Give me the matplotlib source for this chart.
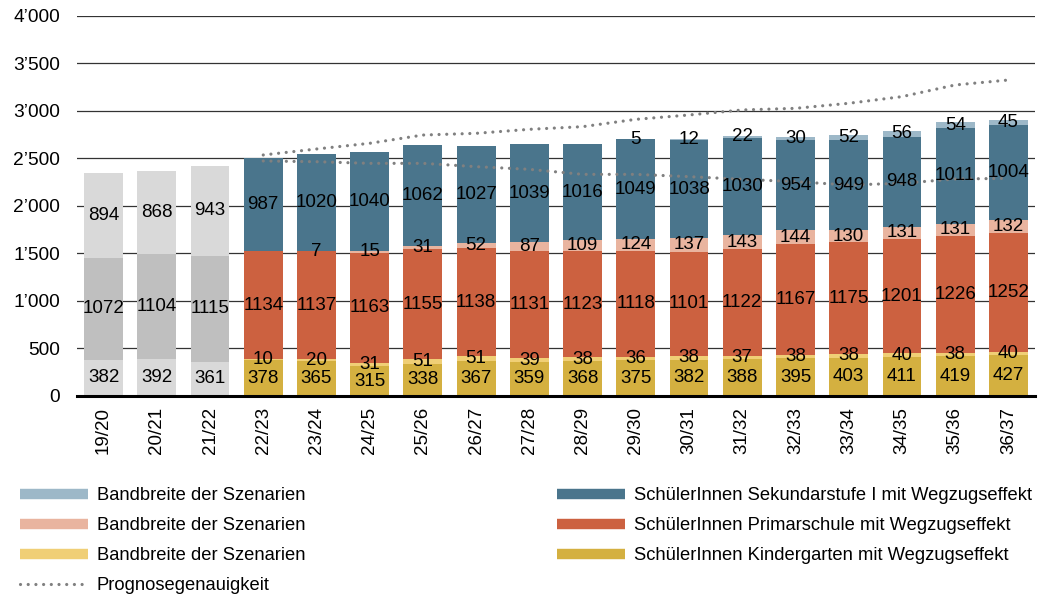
import matplotlib
matplotlib.use("Agg")
import matplotlib.pyplot as plt
from matplotlib.lines import Line2D
from matplotlib.ticker import FuncFormatter
import numpy as np

plt.rcParams['font.family'] = ['Liberation Sans', 'DejaVu Sans']

years = ["19/20", "20/21", "21/22", "22/23", "23/24", "24/25", "25/26", "26/27",
         "27/28", "28/29", "29/30", "30/31", "31/32", "32/33", "33/34", "34/35",
         "35/36", "36/37"]

# historic (grey)
hist_kg = [382, 392, 361]
hist_prim = [1072, 1104, 1115]
hist_sek = [894, 868, 943]

# forecast
kg = [378, 365, 315, 338, 367, 359, 368, 375, 382, 388, 395, 403, 411, 419, 427]
kg_band = [10, 20, 31, 51, 51, 39, 38, 36, 38, 37, 38, 38, 40, 38, 40]
prim = [1134, 1137, 1163, 1155, 1138, 1131, 1123, 1118, 1101, 1122, 1167, 1175, 1201, 1226, 1252]
prim_band = [0, 7, 15, 31, 52, 87, 109, 124, 137, 143, 144, 130, 131, 131, 132]
sek = [987, 1020, 1040, 1062, 1027, 1039, 1016, 1049, 1038, 1030, 954, 949, 948, 1011, 1004]
sek_band = [0, 0, 0, 0, 0, 0, 0, 5, 12, 22, 30, 52, 56, 54, 45]

# prognosis uncertainty (upper / lower)
prog_upper = [2537, 2600, 2660, 2747, 2765, 2807, 2835, 2912, 2958, 3011, 3028, 3081, 3151, 3274, 3326]
prog_lower = [2474, 2466, 2449, 2449, 2414, 2386, 2333, 2333, 2309, 2281, 2256, 2221, 2239, 2284, 2291]

c_grey_l = '#d9d9d9'
c_grey_d = '#bfbfbf'
c_kg = '#d4b040'
c_kg_b = '#f0cf76'
c_prim = '#cc6140'
c_prim_b = '#e9b49f'
c_sek = '#4a758c'
c_sek_b = '#9db8c8'
c_line = '#808080'

fig = plt.figure(figsize=(10.5, 5.99), dpi=100)
ax = fig.add_axes([0.0733, 0.3389, 0.9124, 0.6344])

x_all = np.arange(len(years))
xh = x_all[:3]
xf = x_all[3:]
w = 0.73
fs = 13.5


def stack(ax, xs, series, colors):
    bottom = np.zeros(len(xs))
    for vals, col in zip(series, colors):
        vals = np.array(vals, dtype=float)
        ax.bar(xs, vals, w, bottom=bottom, color=col, edgecolor='none', zorder=2)
        for xi, b, v in zip(xs, bottom, vals):
            if v > 0:
                ax.text(xi, b + v / 2, f"{int(v)}", ha='center', va='center',
                        fontsize=fs, color='black', zorder=5)
        bottom = bottom + vals


stack(ax, xh, [hist_kg, hist_prim, hist_sek], [c_grey_l, c_grey_d, c_grey_l])
stack(ax, xf, [kg, kg_band, prim, prim_band, sek, sek_band],
      [c_kg, c_kg_b, c_prim, c_prim_b, c_sek, c_sek_b])

dot = dict(color=c_line, lw=2.3, linestyle=(0, (0.01, 2.4)), dash_capstyle='round', zorder=4)
ax.plot(xf, prog_upper, **dot)
ax.plot(xf, prog_lower, **dot)

ax.set_xlim(-0.5, len(years) - 0.5)
ax.set_ylim(0, 4000)
ax.set_yticks(np.arange(0, 4001, 500))
ax.yaxis.set_major_formatter(FuncFormatter(lambda v, p: f"{int(v):,}".replace(",", "\u2019")))
ax.set_xticks(x_all)
ax.set_xticklabels(years, rotation=90)
ax.tick_params(axis='y', length=0, pad=12, labelsize=13.8)
ax.tick_params(axis='x', length=0, pad=8, labelsize=13.5)
ax.grid(axis='y', color='#333333', lw=0.9)
ax.set_axisbelow(True)
for s in ['top', 'right', 'left']:
    ax.spines[s].set_visible(False)
ax.spines['bottom'].set_linewidth(2.2)
ax.spines['bottom'].set_color('black')
ax.spines['bottom'].set_zorder(6)

lw_patch = 7.5
h_left = [Line2D([], [], color=c_sek_b, lw=lw_patch, solid_capstyle='butt'),
          Line2D([], [], color=c_prim_b, lw=lw_patch, solid_capstyle='butt'),
          Line2D([], [], color=c_kg_b, lw=lw_patch, solid_capstyle='butt'),
          Line2D([], [], color=c_line, lw=2.3, linestyle=(0, (0.01, 2.4)), dash_capstyle='round')]
l_left = ["Bandbreite der Szenarien", "Bandbreite der Szenarien",
          "Bandbreite der Szenarien", "Prognosegenauigkeit"]
h_right = [Line2D([], [], color=c_sek, lw=lw_patch, solid_capstyle='butt'),
           Line2D([], [], color=c_prim, lw=lw_patch, solid_capstyle='butt'),
           Line2D([], [], color=c_kg, lw=lw_patch, solid_capstyle='butt')]
l_right = ["SchülerInnen Sekundarstufe I mit Wegzugseffekt",
           "SchülerInnen Primarschule mit Wegzugseffekt",
           "SchülerInnen Kindergarten mit Wegzugseffekt"]

leg_kw = dict(frameon=False, fontsize=13.2, handlelength=3.7, handletextpad=0.48,
              labelspacing=0.71, borderaxespad=0, borderpad=0, loc='upper left')
fig.legend(h_left, l_left, bbox_to_anchor=(20 / 1050, 1 - 487 / 599), **leg_kw)
fig.legend(h_right, l_right, bbox_to_anchor=(557 / 1050, 1 - 487 / 599), **leg_kw)

fig.savefig("out.png", dpi=100)
